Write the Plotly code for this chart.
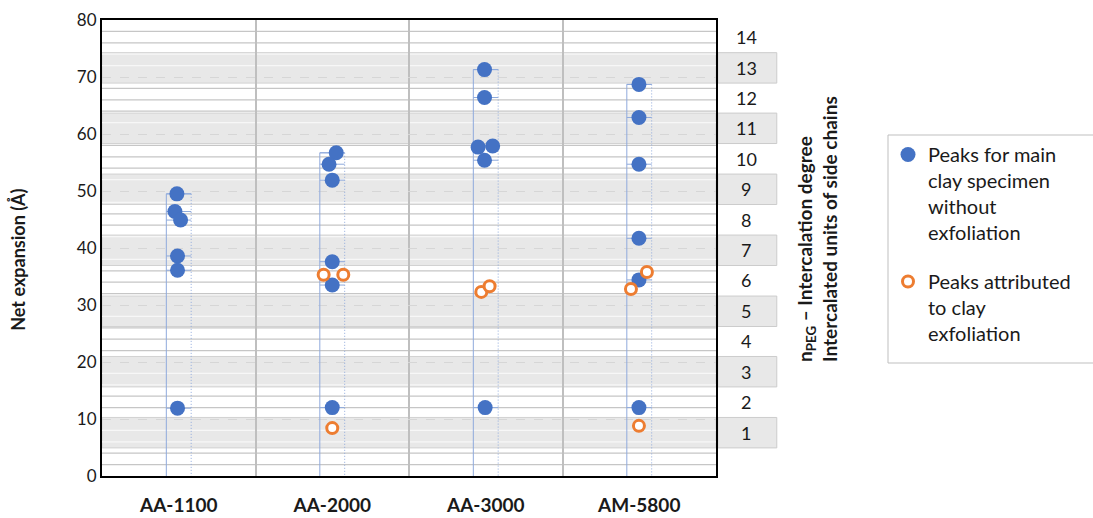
import plotly.graph_objects as go

# ---------------- data ----------------
categories = ["AA-1100", "AA-2000", "AA-3000", "AM-5800"]

# Peaks for main clay specimen (blue): category index, net expansion (Å), small jitter (category units)
main_cat = [0, 0, 0, 0, 0, 0,
            1, 1, 1, 1, 1, 1,
            2, 2, 2, 2, 2, 2,
            3, 3, 3, 3, 3, 3]
main_val = [49.5, 46.4, 44.9, 38.6, 36.1, 11.9,
            56.7, 54.7, 51.9, 37.6, 33.5, 12.0,
            71.3, 66.4, 57.7, 57.9, 55.4, 12.0,
            68.7, 62.9, 54.7, 41.7, 34.4, 12.0]
main_dx = [-0.012, -0.025, 0.012, -0.008, -0.008, -0.008,
           0.026, -0.021, 0.0, 0.0, 0.0, 0.0,
           -0.008, -0.008, -0.050, 0.045, -0.008, -0.004,
           -0.002, -0.002, -0.002, -0.002, -0.002, -0.002]

# Peaks attributed to clay exfoliation (orange)
exf_cat = [1, 1, 1, 2, 2, 3, 3, 3]
exf_val = [35.3, 35.3, 8.4, 32.3, 33.3, 35.8, 32.8, 8.8]
exf_dx = [-0.056, 0.072, 0.0, -0.029, 0.025, 0.050, -0.054, -0.002]

# n_PEG intercalation degree bands (centre in Å)
npeg = list(range(1, 15))
npeg_center = [7.6, 12.9, 18.3, 23.6, 28.9, 34.3, 39.6, 44.9, 50.3, 55.6, 61.0, 66.3, 71.6, 77.0]
band_half = 2.67

y_ticks = [0, 10, 20, 30, 40, 50, 60, 70, 80]
minor_grid = [g for g in range(2, 80, 2) if g % 10 != 0]

# ---------------- style ----------------
FONT = "Lato"
TXT = "#1a1a1a"
BLUE = "#4472C4"
ORANGE = "#ED7D31"
BOXC = "#8faadc"
BAND = "#e8e8e8"
BOX_W = 0.081

fig = go.Figure()

# envelopes (error-bar style boxes) for each category
solid_x, solid_y, dot_x, dot_y = [], [], [], []
for i, _ in enumerate(categories):
    vals = [v for c, v in zip(main_cat, main_val) if c == i]
    top = max(vals)
    solid_x += [i - BOX_W, i - BOX_W, i + BOX_W, None]
    solid_y += [0, top, top, None]
    dot_x += [i + BOX_W, i + BOX_W, None]
    dot_y += [top, 0, None]
seg_x, seg_y = [], []
for c, v in zip(main_cat, main_val):
    seg_x += [c - BOX_W, c + BOX_W, None]
    seg_y += [v, v, None]

fig.add_trace(go.Scatter(x=solid_x, y=solid_y, mode="lines",
                         line=dict(color=BOXC, width=1), showlegend=False, hoverinfo="skip"))
fig.add_trace(go.Scatter(x=dot_x, y=dot_y, mode="lines",
                         line=dict(color=BOXC, width=1, dash="1px,2px"), showlegend=False, hoverinfo="skip"))
fig.add_trace(go.Scatter(x=seg_x, y=seg_y, mode="lines",
                         line=dict(color=BOXC, width=1), showlegend=False, hoverinfo="skip"))

fig.add_trace(go.Scatter(
    x=[c + d for c, d in zip(main_cat, main_dx)], y=main_val, mode="markers",
    marker=dict(size=15, color=BLUE, line=dict(width=0)),
    name="Peaks for main<br>clay specimen<br>without<br>exfoliation", legendgroup="a"))
fig.add_trace(go.Scatter(
    x=[c + d for c, d in zip(exf_cat, exf_dx)], y=exf_val, mode="markers",
    marker=dict(size=11, color="white", line=dict(width=3, color=ORANGE)),
    name="Peaks attributed<br>to clay<br>exfoliation", legendgroup="b"))

shapes = []
annotations = []
band_ranges = []
for n, c in zip(npeg, npeg_center):
    if n % 2 == 1:
        band_ranges.append((c - band_half, c + band_half))
        shapes.append(dict(type="rect", xref="x domain", yref="y", x0=0, x1=1,
                           y0=c - band_half, y1=c + band_half, fillcolor=BAND,
                           line=dict(color="#d2d2d2", width=1), layer="below"))
        shapes.append(dict(type="rect", xref="x domain", yref="y", x0=1.003, x1=1.099,
                           y0=c - band_half, y1=c + band_half, fillcolor=BAND,
                           line=dict(color="#cccccc", width=1), layer="below"))
    annotations.append(dict(text=str(n), xref="x domain", yref="y", x=1.049, y=c,
                            showarrow=False, xanchor="center", yanchor="middle",
                            font=dict(family=FONT, size=18, color=TXT)))

# minor grid lines (lighter inside shaded bands), drawn on top of the bands
for g in minor_grid:
    inside = any(lo < g < hi for lo, hi in band_ranges)
    shapes.append(dict(type="line", xref="x domain", yref="y", x0=0, x1=1, y0=g, y1=g,
                       line=dict(color="#f7f7f7" if inside else "#c6c6c6", width=1.3),
                       layer="below"))

# legend frame (runs off the right edge as in the reference)
shapes.append(dict(type="rect", xref="paper", yref="paper",
                   x0=(888 - 102) / 614, x1=1.65, y0=(476 - 363) / 456, y1=(476 - 135) / 456,
                   line=dict(color="#bfbfbf", width=1), fillcolor="rgba(0,0,0,0)", layer="above"))

annotations.append(dict(text="<b>Net expansion (Å)</b>", xref="paper", yref="paper",
                        x=-0.137, y=0.474, textangle=-90, showarrow=False,
                        xanchor="center", yanchor="middle",
                        font=dict(family=FONT, size=18, color=TXT)))
annotations.append(dict(text="<b>n<sub>PEG</sub> – Intercalation degree<br>Intercalated units of side chains</b>",
                        xref="paper", yref="paper", x=1.1645, y=0.2456, textangle=-90,
                        showarrow=False, xanchor="center", yanchor="bottom", align="left",
                        font=dict(family=FONT, size=19, color=TXT)))

fig.update_layout(
    width=1093, height=518,
    margin=dict(l=102, r=377, t=20, b=42, autoexpand=False),
    paper_bgcolor="white", plot_bgcolor="white",
    font=dict(family=FONT, size=17, color=TXT),
    shapes=shapes, annotations=annotations,
    legend=dict(x=(888 - 102) / 614, xanchor="left", y=(476 - 135) / 456, yanchor="top",
                borderwidth=0, valign="top", tracegroupgap=20,
                font=dict(family=FONT, size=20, color=TXT), bgcolor="rgba(0,0,0,0)"),
    xaxis=dict(range=[-0.5, 3.5], tickmode="array", tickvals=list(range(len(categories))),
               ticktext=categories, showgrid=False, zeroline=False, automargin=False,
               ticks="outside", ticklen=11, tickcolor="rgba(0,0,0,0)",
               tickfont=dict(family=FONT, size=19, color=TXT, weight="bold"),
               showline=True, linecolor="black", linewidth=2, mirror=True,
               minor=dict(tick0=0.5, dtick=1, showgrid=True, gridcolor="#bfbfbf",
                          gridwidth=1.5, griddash="solid")),
    yaxis=dict(range=[0, 80], tickmode="array", tickvals=y_ticks, automargin=False,
               showgrid=True, gridcolor="#d6d6d6", griddash="dash", gridwidth=1,
               zeroline=False, ticks="", tickfont=dict(family=FONT, size=17, color=TXT),
               showline=True, linecolor="black", linewidth=2, mirror=True),
)

fig.write_html("out.html")
